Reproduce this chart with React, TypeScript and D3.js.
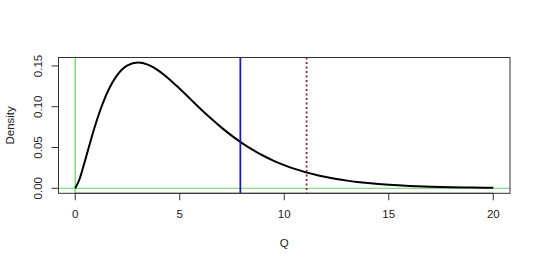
import React from "react";
import * as d3 from "d3";

const qValues = [0, 0.2, 0.4, 0.6, 0.8, 1, 1.2, 1.4, 1.5, 2, 2.5, 3, 3.5, 4, 4.5, 5, 5.5, 6, 6.5, 7, 7.5, 8, 8.5, 9, 9.5, 10, 10.5, 11, 11.5, 12, 12.5, 13, 13.5, 14, 14.5, 15, 16, 17, 18, 19, 20];
const densityValues = [0, 0.01076, 0.02754, 0.04579, 0.06378, 0.08066, 0.09594, 0.10939, 0.1154, 0.13837, 0.1506, 0.15418, 0.15131, 0.14398, 0.1338, 0.12204, 0.10965, 0.0973, 0.08545, 0.07437, 0.06424, 0.05511, 0.04701, 0.03989, 0.03369, 0.02833, 0.02374, 0.01983, 0.01651, 0.0137, 0.01135, 0.00937, 0.00772, 0.00635, 0.00521, 0.00427, 0.00286, 0.0019, 0.00125, 0.00082, 0.00054];
const xTicks = [0, 5, 10, 15, 20];
const yTicks = [0, 0.05, 0.1, 0.15];
const blueLineQ = 7.9;
const redLineQ = 11.07;
const xLabel = "Q";
const yLabel = "Density";

export default function App() {
  const W = 540, H = 266;
  const left = 58.5, right = 510, top = 57.5, bottom = 193.3;
  const yMax = d3.max(densityValues) as number;
  const x = d3.scaleLinear().domain([-0.8, 20.8]).range([left, right]);
  const y = d3.scaleLinear().domain([-0.04 * yMax, yMax * 1.04]).range([bottom, top]);
  const line = d3.line<number>().x((_, i) => x(qValues[i])).y((d) => y(d)).curve(d3.curveMonotoneX);
  const font = "Liberation Sans, Arial, sans-serif";
  return (
    <svg width={W} height={H} style={{ position: "absolute", left: 0, top: 0, background: "#fff" }}>
      <defs>
        <clipPath id="plotclip">
          <rect x={left} y={top} width={right - left} height={bottom - top} />
        </clipPath>
      </defs>
      <g clipPath="url(#plotclip)">
        <line x1={x(0)} x2={x(0)} y1={top} y2={bottom} stroke="#5fd35f" strokeWidth={1.2} />
        <line x1={left} x2={right} y1={y(0)} y2={y(0)} stroke="#5fd35f" strokeWidth={1.2} />
        <path d={line(densityValues) || ""} fill="none" stroke="#000" strokeWidth={2} strokeLinejoin="round" />
        <line x1={x(blueLineQ)} x2={x(blueLineQ)} y1={top} y2={bottom} stroke="#1c1ca8" strokeWidth={1.8} />
        <line x1={x(redLineQ)} x2={x(redLineQ)} y1={top} y2={bottom} stroke="#8b2a2a" strokeWidth={1.8} strokeDasharray="2 2.5" />
      </g>
      <rect x={left} y={top} width={right - left} height={bottom - top} fill="none" stroke="#333" strokeWidth={1} />
      {xTicks.map((t) => (
        <g key={"x" + t}>
          <line x1={x(t)} x2={x(t)} y1={bottom} y2={bottom + 7} stroke="#333" />
          <text x={x(t)} y={218} textAnchor="middle" fontFamily={font} fontSize={11.5} fill="#222">{t}</text>
        </g>
      ))}
      <line x1={x(0)} x2={x(20)} y1={bottom} y2={bottom} stroke="#333" />
      {yTicks.map((t) => (
        <g key={"y" + t}>
          <line x1={left} x2={left - 7} y1={y(t)} y2={y(t)} stroke="#333" />
          <text transform={`translate(42,${y(t)}) rotate(-90)`} textAnchor="middle" fontFamily={font} fontSize={11.5} fill="#222">{t.toFixed(2)}</text>
        </g>
      ))}
      <line x1={left} x2={left} y1={y(0)} y2={y(0.15)} stroke="#333" />
      <text x={x(10)} y={247} textAnchor="middle" fontFamily={font} fontSize={11.5} fill="#222">{xLabel}</text>
      <text transform={`translate(14,${(top + bottom) / 2}) rotate(-90)`} textAnchor="middle" fontFamily={font} fontSize={11.5} fill="#222">{yLabel}</text>
    </svg>
  );
}
